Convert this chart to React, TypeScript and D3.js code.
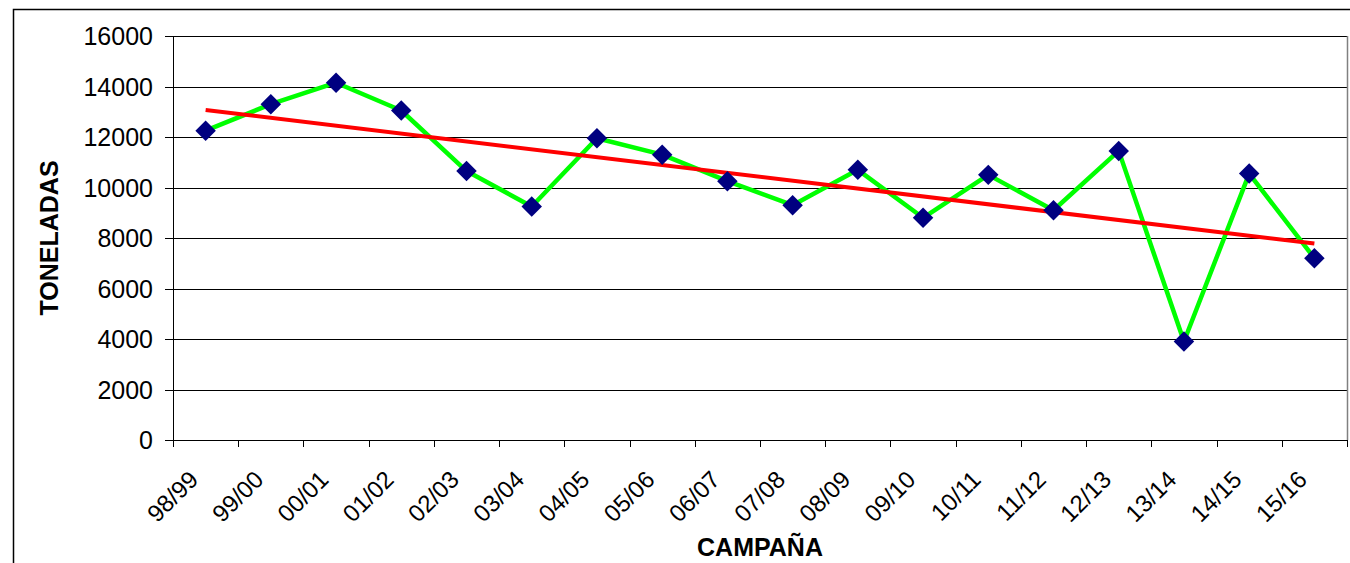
import React from "react";
import * as d3 from "d3";

const categories = ["98/99","99/00","00/01","01/02","02/03","03/04","04/05","05/06","06/07","07/08","08/09","09/10","10/11","11/12","12/13","13/14","14/15","15/16"];
const toneladas = [12250,13300,14150,13050,10650,9250,11950,11300,10250,9300,10700,8800,10500,9100,11450,3900,10550,7200];
const yTicks = [0,2000,4000,6000,8000,10000,12000,14000,16000];

const W = 1350, H = 563;
const left = 173, right = 1347, top = 36, bottom = 440;

export default function App() {
  React.useEffect(() => { document.body.style.margin = "0"; }, []);
  const x = d3.scaleBand<string>().domain(categories).range([left, right]);
  const y = d3.scaleLinear().domain([0, 16000]).range([bottom, top]);
  const cx = (c: string) => (x(c) as number) + x.bandwidth() / 2;

  // linear trendline (least squares)
  const n = toneladas.length;
  const idx = d3.range(n);
  const mx = d3.mean(idx) as number;
  const my = d3.mean(toneladas) as number;
  const slope = d3.sum(idx, i => (i - mx) * (toneladas[i] - my)) / d3.sum(idx, i => (i - mx) ** 2);
  const icpt = my - slope * mx;

  const line = d3.line<number>().x((_, i) => cx(categories[i])).y(v => y(v));
  const ticksX = categories.map(c => x(c) as number).concat([right]);
  const font = "Arial, 'Liberation Sans', sans-serif";

  return (
    <svg width={W} height={H} style={{ display: "block" }} fontFamily={font}>
      <rect x={0} y={0} width={W} height={H} fill="#fff" />
      <rect x={13.5} y={9.5} width={1400} height={600} fill="none" stroke="#000" strokeWidth={1.5} />
      {yTicks.map(t => (
        <g key={t}>
          <line x1={165} x2={right} y1={Math.round(y(t)) + 0.5} y2={Math.round(y(t)) + 0.5} stroke="#000" strokeWidth={1} />
          <text x={153} y={y(t)} dy="0.36em" textAnchor="end" fontSize={25} fill="#000">{t}</text>
        </g>
      ))}
      <line x1={right + 0.5} x2={right + 0.5} y1={top} y2={bottom} stroke="#808080" strokeWidth={1.5} />
      <line x1={left + 0.5} x2={left + 0.5} y1={top} y2={bottom + 7} stroke="#000" strokeWidth={1} />
      {ticksX.map((t, i) => (
        <line key={i} x1={Math.round(t) + 0.5} x2={Math.round(t) + 0.5} y1={bottom} y2={bottom + 7} stroke="#000" strokeWidth={1} />
      ))}
      {categories.map(c => (
        <text key={c} transform={`translate(${cx(c) - 6},${481}) rotate(-45)`} textAnchor="end" fontSize={24} fill="#000">{c}</text>
      ))}
      <text transform={`translate(58,${(top + bottom) / 2}) rotate(-90)`} textAnchor="middle" fontSize={25} fontWeight="bold" fill="#000">TONELADAS</text>
      <text x={(left + right) / 2} y={556} textAnchor="middle" fontSize={25} fontWeight="bold" fill="#000">CAMPAÑA</text>
      <path d={line(toneladas) as string} fill="none" stroke="#00ff00" strokeWidth={4.5} strokeLinejoin="round" />
      <line x1={cx(categories[0])} x2={cx(categories[n - 1])} y1={y(icpt)} y2={y(icpt + slope * (n - 1))} stroke="#ff0000" strokeWidth={4} />
      {toneladas.map((v, i) => (
        <path key={i} d={d3.symbol(d3.symbolSquare, 210)() as string} transform={`translate(${cx(categories[i])},${y(v)}) rotate(45)`} fill="#000080" />
      ))}
    </svg>
  );
}
